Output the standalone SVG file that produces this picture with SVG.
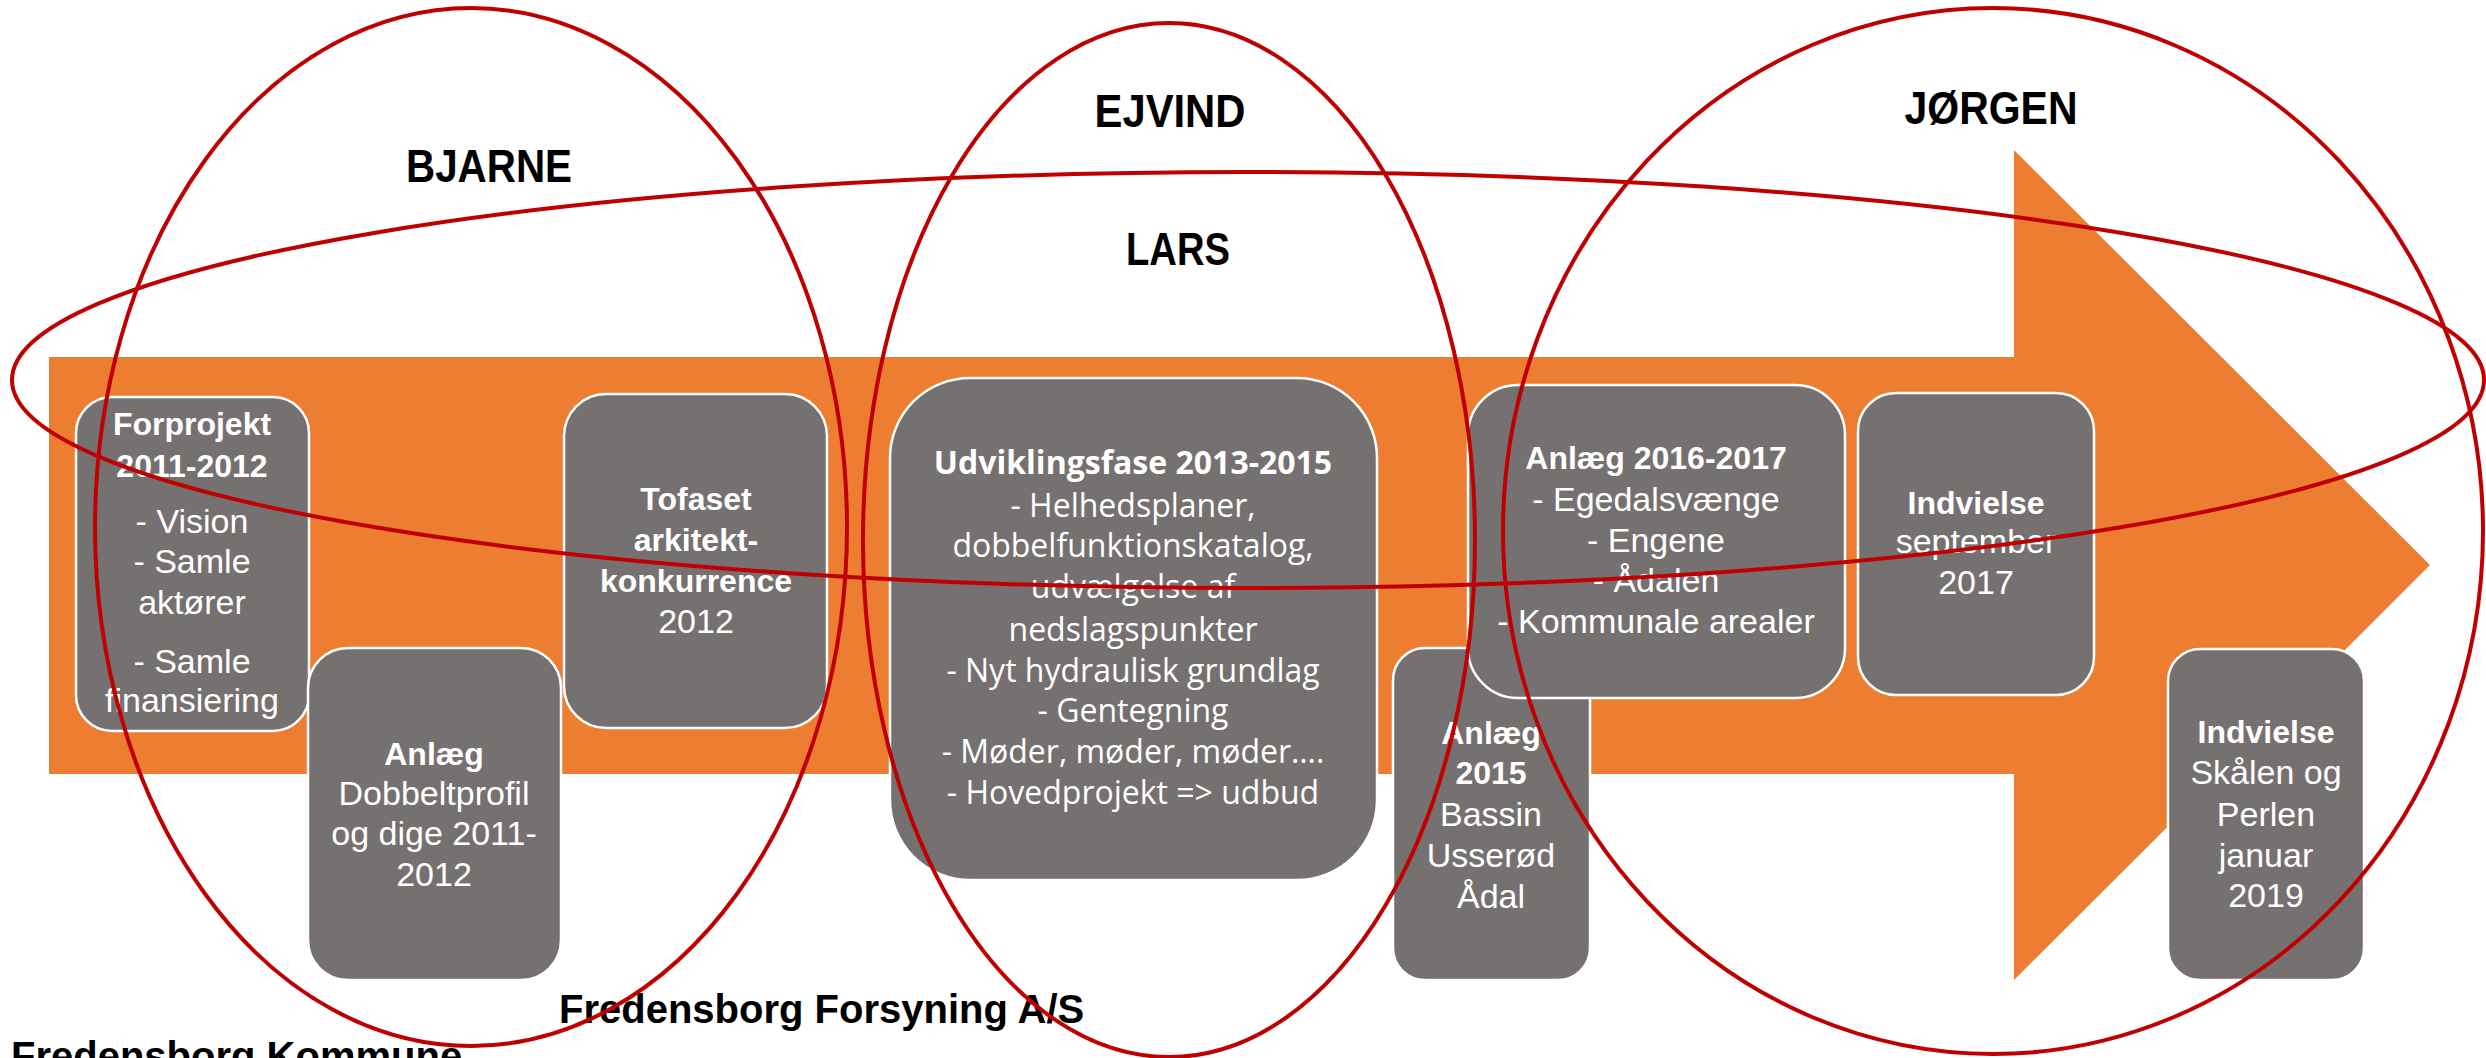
<svg xmlns="http://www.w3.org/2000/svg" width="2486" height="1058" viewBox="0 0 2486 1058">
<style>
.box{fill:#767171;stroke:#ffffff;stroke-width:2.5}
.t{font-family:"Liberation Sans",Arial,sans-serif;font-size:34px;fill:#ffffff;text-anchor:middle}
.b{font-weight:bold;font-size:32px}
.u{font-family:"Open Sans","Noto Sans",sans-serif;font-size:32px}
.ring{fill:none;stroke:#C00000;stroke-width:4}
.lbl{font-family:"Liberation Sans",Arial,sans-serif;font-weight:bold;font-size:46px;fill:#000000;text-anchor:middle}
.org{font-family:"Liberation Sans",Arial,sans-serif;font-weight:bold;font-size:40px;fill:#000000}
</style>
<rect width="2486" height="1058" fill="#ffffff"/>
<g id="arrow">
<polygon points="49,357 2014,357 2014,150 2430,565 2014,980 2014,774 49,774" fill="#ED7D31"/>
</g>
<g id="forprojekt">
<rect class="box" x="76" y="397" width="233" height="334" rx="36"/>
<text class="t b" x="192" y="435">Forprojekt</text>
<text class="t b" x="192" y="477">2011-2012</text>
<text class="t" x="192" y="533">- Vision</text>
<text class="t" x="192" y="573">- Samle</text>
<text class="t" x="192" y="614">aktører</text>
<text class="t" x="192" y="673">- Samle</text>
<text class="t" x="192" y="712">finansiering</text>
</g>
<g id="anlaeg-dobbeltprofil">
<rect class="box" x="308" y="648" width="253" height="332" rx="40"/>
<text class="t b" x="434" y="765">Anlæg</text>
<text class="t" x="434" y="805">Dobbeltprofil</text>
<text class="t" x="434" y="845">og dige 2011-</text>
<text class="t" x="434" y="886">2012</text>
</g>
<g id="tofaset">
<rect class="box" x="564" y="394" width="263" height="334" rx="42"/>
<text class="t b" x="696" y="510">Tofaset</text>
<text class="t b" x="696" y="551">arkitekt-</text>
<text class="t b" x="696" y="592">konkurrence</text>
<text class="t" x="696" y="633">2012</text>
</g>
<g id="udviklingsfase">
<rect class="box" x="890" y="378" width="487" height="502" rx="80"/>
<text class="t u" x="1133" y="474" font-weight="bold">Udviklingsfase 2013-2015</text>
<text class="t u" x="1133" y="517">- Helhedsplaner,</text>
<text class="t u" x="1133" y="557">dobbelfunktionskatalog,</text>
<text class="t u" x="1133" y="598">udvælgelse af</text>
<text class="t u" x="1133" y="641">nedslagspunkter</text>
<text class="t u" x="1133" y="682">- Nyt hydraulisk grundlag</text>
<text class="t u" x="1133" y="722">- Gentegning</text>
<text class="t u" x="1133" y="763">- Møder, møder, møder….</text>
<text class="t u" x="1133" y="804">- Hovedprojekt =&gt; udbud</text>
</g>
<g id="anlaeg-2015">
<rect class="box" x="1393" y="648" width="197" height="332" rx="32"/>
<text class="t b" x="1491" y="744">Anlæg</text>
<text class="t b" x="1491" y="784">2015</text>
<text class="t" x="1491" y="826">Bassin</text>
<text class="t" x="1491" y="867">Usserød</text>
<text class="t" x="1491" y="908">Ådal</text>
</g>
<g id="anlaeg-2016">
<rect class="box" x="1468" y="385" width="377" height="313" rx="50"/>
<text class="t b" x="1656" y="469">Anlæg 2016-2017</text>
<text class="t" x="1656" y="511">- Egedalsvænge</text>
<text class="t" x="1656" y="552">- Engene</text>
<text class="t" x="1656" y="592">- Ådalen</text>
<text class="t" x="1656" y="633">- Kommunale arealer</text>
</g>
<g id="indvielse-2017">
<rect class="box" x="1858" y="393" width="236" height="302" rx="38"/>
<text class="t b" x="1976" y="514">Indvielse</text>
<text class="t" x="1976" y="553">september</text>
<text class="t" x="1976" y="594">2017</text>
</g>
<g id="indvielse-2019">
<rect class="box" x="2168" y="649" width="196" height="331" rx="32"/>
<text class="t b" x="2266" y="743">Indvielse</text>
<text class="t" x="2266" y="784">Skålen og</text>
<text class="t" x="2266" y="826">Perlen</text>
<text class="t" x="2266" y="867">januar</text>
<text class="t" x="2266" y="907">2019</text>
</g>
<g id="organisations">
<text class="org" x="559" y="1023">Fredensborg Forsyning A/S</text>
<text class="org" x="11" y="1070">Fredensborg Kommune</text>
</g>
<g id="people">
<ellipse id="ring-bjarne" class="ring" cx="471" cy="527" rx="376" ry="519"/>
<ellipse id="ring-ejvind" class="ring" cx="1169" cy="540" rx="306" ry="517"/>
<ellipse id="ring-jorgen" class="ring" cx="1993" cy="531" rx="490" ry="523"/>
<ellipse id="ring-lars" class="ring" cx="1248" cy="380" rx="1236" ry="208" stroke-width="5"/>
<text class="lbl" x="489" y="182" textLength="166" lengthAdjust="spacingAndGlyphs">BJARNE</text>
<text class="lbl" x="1170" y="127" textLength="151" lengthAdjust="spacingAndGlyphs">EJVIND</text>
<text class="lbl" x="1178" y="265" textLength="104" lengthAdjust="spacingAndGlyphs">LARS</text>
<text class="lbl" x="1991" y="124" textLength="173" lengthAdjust="spacingAndGlyphs">JØRGEN</text>
</g>
</svg>
